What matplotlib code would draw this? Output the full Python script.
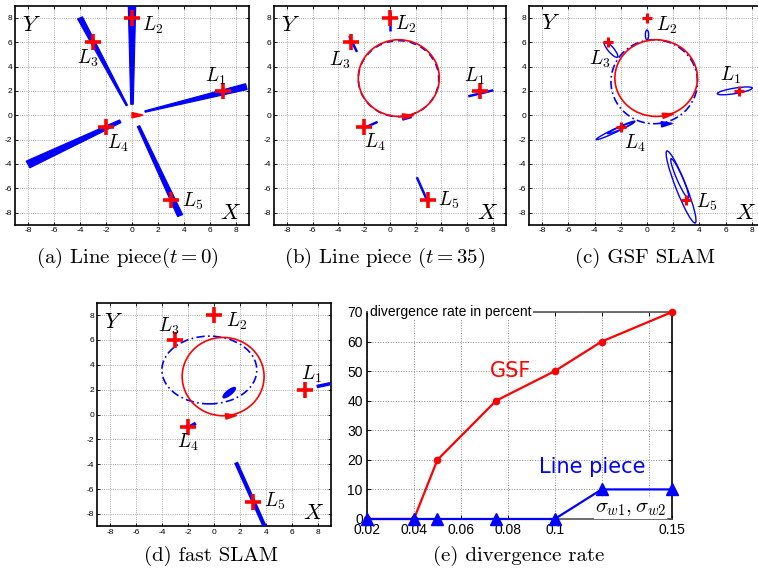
import numpy as np
import matplotlib
matplotlib.use("Agg")
import matplotlib.pyplot as plt
from matplotlib.patches import Ellipse, Polygon

plt.rcParams['font.family'] = ['Liberation Sans', 'DejaVu Sans']
plt.rcParams['mathtext.fontset'] = 'cm'
plt.rcParams['axes.unicode_minus'] = False

# ---------------- landmarks ----------------
lm_x = [7, 0, -3, -2, 3]
lm_y = [2, 8, 6, -1, -7]
lm_names = ['$L_1$', '$L_2$', '$L_3$', '$L_4$', '$L_5$']

# (a) line pieces at t = 0 : start/end points and widths
piece0_x0 = [1.0, 0.0, -0.4, -0.9, 0.5]
piece0_y0 = [0.3, 0.9, 0.8, -0.5, -0.9]
piece0_x1 = [8.8, 0.0, -4.0, -8.0, 3.7]
piece0_y1 = [2.35, 9.6, 8.0, -4.05, -8.25]
piece0_w0 = [0.12, 0.2, 0.12, 0.25, 0.2]
piece0_w1 = [0.5, 0.6, 0.42, 0.62, 0.42]

# (b) line pieces at t = 35
piece35_x0 = [6.1, 0.05, -3.15, -2.1, 2.1]
piece35_y0 = [1.55, 6.9, 6.5, -1.1, -5.1]
piece35_x1 = [8.05, 0.05, -2.55, -0.95, 2.9]
piece35_y1 = [2.05, 8.5, 5.2, -0.55, -7.0]

# robot trajectory (true) and estimates: centre x, centre y, width, height
true_path = (0.7, 3.05, 6.3, 6.3)
est_path_b = (0.68, 3.0, 6.25, 6.25)
est_path_c = (0.55, 2.75, 6.6, 6.9)
est_path_d = (-0.36, 3.58, 7.3, 5.45)

# (c) GSF landmark covariance ellipses
gsf_cx = [6.7, 0.0, -2.75, -2.4, -2.0, 2.6, 2.5]
gsf_cy = [2.0, 6.6, 5.4, -1.25, -1.05, -5.9, -5.2]
gsf_w = [2.7, 0.8, 1.6, 3.3, 2.2, 6.3, 3.5]
gsf_h = [0.45, 0.25, 0.45, 0.3, 0.2, 0.8, 0.45]
gsf_ang = [10, 90, -52, 27, 25, -70, -68]

# (d) fast SLAM landmark lines
fast_x0 = [7.9, -1.85, 1.69]
fast_y0 = [2.25, -0.97, -3.85]
fast_x1 = [9.6, -1.4, 4.15]
fast_y1 = [2.62, -0.7, -9.6]
fast_lw = [2.5, 2.5, 3.0]

# (e) divergence rate
sigma = [0.02, 0.04, 0.05, 0.075, 0.10, 0.12, 0.15]
gsf_rate = [0, 0, 20, 40, 50, 60, 70]
piece_rate = [0, 0, 0, 0, 0, 10, 10]
e_xticks = [0.02, 0.04, 0.06, 0.08, 0.10, 0.12, 0.14, 0.15]
e_xticklabels = ['0.02', '0.04', '0.06', '0.08', '0.1', '', '', '0.15']
e_yticks = [0, 10, 20, 30, 40, 50, 60, 70]

fig = plt.figure(figsize=(7.58, 5.75), dpi=100)


def slam_axes(rect):
    ax = fig.add_axes(rect)
    ax.set_xlim(-9, 9)
    ax.set_ylim(-9, 9)
    ticks = np.arange(-8, 9, 2)
    ax.set_xticks(ticks)
    ax.set_yticks(ticks)
    ax.tick_params(direction='in', length=2, width=0.6, labelsize=6, pad=2,
                   top=True, right=True)
    ax.grid(True, linestyle=':', color='#8a8a8a', lw=0.6)
    ax.set_axisbelow(True)
    for s in ax.spines.values():
        s.set_linewidth(1.2)
    return ax


def robot(ax, x, y, heading, color, length=0.85, half=0.22, zorder=6):
    h = np.deg2rad(heading)
    tip = (x + length * np.cos(h), y + length * np.sin(h))
    b1 = (x - half * np.sin(h), y + half * np.cos(h))
    b2 = (x + half * np.sin(h), y - half * np.cos(h))
    ax.add_patch(Polygon([b1, tip, b2], closed=True, facecolor=color,
                         edgecolor=color, lw=1, zorder=zorder))


def landmarks(ax, offsets, msize=11, mew=2.6):
    ax.plot(lm_x, lm_y, '+', color='red', ms=msize, mew=mew, zorder=7)
    for x, y, name, (dx, dy) in zip(lm_x, lm_y, lm_names, offsets):
        ax.text(x + dx, y + dy, name, fontsize=14, ha='center', va='center',
                zorder=8)


def xy_labels(ax, xpos=(7.6, -8.1), ypos=(-7.7, 7.4)):
    ax.text(*xpos, '$X$', fontsize=16, ha='center', va='center', zorder=8)
    ax.text(*ypos, '$Y$', fontsize=16, ha='center', va='center', zorder=8)


def wedge(ax, x0, y0, x1, y1, w0, w1, color='blue'):
    d = np.array([x1 - x0, y1 - y0], float)
    d /= np.hypot(*d)
    n = np.array([-d[1], d[0]])
    p0 = np.array([x0, y0])
    p1 = np.array([x1, y1])
    verts = [p0 + n * w0 / 2, p1 + n * w1 / 2, p1 - n * w1 / 2, p0 - n * w0 / 2]
    ax.add_patch(Polygon(verts, closed=True, facecolor=color, edgecolor=color,
                         lw=0.8, zorder=4))


def path(ax, spec, color, ls, lw=1.2):
    cx, cy, w, h = spec
    ax.add_patch(Ellipse((cx, cy), w, h, fill=False, edgecolor=color,
                         linestyle=ls, lw=lw, zorder=5))


# ---------------- (a) ----------------
ax_a = slam_axes([0.0198, 0.6092, 0.3087, 0.3809])
for i in range(5):
    wedge(ax_a, piece0_x0[i], piece0_y0[i], piece0_x1[i], piece0_y1[i],
          piece0_w0[i], piece0_w1[i])
robot(ax_a, 0.0, 0.0, 0, 'red')
landmarks(ax_a, [(-0.6, 1.2), (1.55, -0.6), (-0.4, -1.3), (0.9, -1.3), (1.7, -0.1)])
xy_labels(ax_a)

# ---------------- (b) ----------------
ax_b = slam_axes([0.3615, 0.6092, 0.3055, 0.3809])
path(ax_b, est_path_b, 'blue', (0, (4, 3)))
path(ax_b, true_path, 'red', '-')
for i in range(5):
    ax_b.plot([piece35_x0[i], piece35_x1[i]], [piece35_y0[i], piece35_y1[i]],
              color='blue', lw=1.8, solid_capstyle='butt', zorder=4)
robot(ax_b, 1.0, -0.25, 5, 'blue', length=0.7, half=0.15)
robot(ax_b, 1.0, -0.1, 5, 'red')
landmarks(ax_b, [(-0.4, 1.2), (1.2, -0.5), (-0.86, -1.5), (0.86, -1.2), (1.55, 0.0)])
xy_labels(ax_b)

# ---------------- (c) ----------------
ax_c = slam_axes([0.6979, 0.6092, 0.3113, 0.3809])
path(ax_c, est_path_c, 'blue', (0, (5, 2, 1, 2)))
path(ax_c, true_path, 'red', '-')
for cx, cy, w, h, a in zip(gsf_cx, gsf_cy, gsf_w, gsf_h, gsf_ang):
    ax_c.add_patch(Ellipse((cx, cy), w, h, angle=a, fill=False,
                           edgecolor='blue', lw=1.0, zorder=4))
robot(ax_c, 1.1, -0.75, 5, 'blue')
robot(ax_c, 1.2, -0.05, 10, 'red')
landmarks(ax_c, [(-0.65, 1.26), (1.5, -0.6), (-0.6, -1.4), (1.1, -1.35), (1.57, -0.15)],
          msize=7, mew=2.2)
xy_labels(ax_c, xpos=(7.5, -8.1), ypos=(-7.4, 7.5))

# ---------------- (d) ----------------
ax_d = slam_axes([0.128, 0.0845, 0.3087, 0.3892])
path(ax_d, est_path_d, 'blue', (0, (5, 2, 1, 2)))
path(ax_d, true_path, 'red', '-')
for x0, y0, x1, y1, lw in zip(fast_x0, fast_y0, fast_x1, fast_y1, fast_lw):
    ax_d.plot([x0, x1], [y0, y1], color='blue', lw=lw, solid_capstyle='butt',
              zorder=4)
ax_d.add_patch(Ellipse((1.17, 1.76), 1.2, 0.38, angle=40, facecolor='blue',
                       edgecolor='blue', zorder=4))
robot(ax_d, 0.9, -0.15, 5, 'red')
landmarks(ax_d, [(0.5, 1.2), (1.76, -0.5), (-0.5, 1.1), (-0.05, -1.2), (1.7, 0.0)])
xy_labels(ax_d, xpos=(7.64, -8.0))

# ---------------- (e) ----------------
ax_e = fig.add_axes([0.4842, 0.0974, 0.4024, 0.36])
ax_e.set_xlim(0.02, 0.15)
ax_e.set_ylim(0, 70)
ax_e.set_xticks(e_xticks)
ax_e.set_xticklabels(e_xticklabels)
ax_e.set_yticks(e_yticks)
ax_e.tick_params(direction='in', length=3, width=0.7, labelsize=10, pad=3,
                 top=True, right=True)
ax_e.grid(True, linestyle=':', color='#8a8a8a', lw=0.7)
ax_e.set_axisbelow(True)
ax_e.spines['left'].set_color('black')
ax_e.spines['right'].set_color('black')
ax_e.spines['top'].set_color('#555555')
ax_e.spines['bottom'].set_color('#555555')
for s in ax_e.spines.values():
    s.set_linewidth(1.2)

ax_e.plot(sigma, gsf_rate, '-o', color='red', lw=1.6, ms=4.5, zorder=5,
          clip_on=False)
ax_e.plot(sigma, piece_rate, '-^', color='blue', lw=1.6, ms=9, zorder=6,
          clip_on=False)
ax_e.text(0.081, 50, 'GSF', color='red', fontsize=15, ha='center', va='center',
          family='DejaVu Sans')
ax_e.text(0.116, 17.6, 'Line piece', color='blue', fontsize=15, ha='center',
          va='center', family='DejaVu Sans')
ax_e.text(0.0212, 70, 'divergence rate in percent', fontsize=10, ha='left',
          va='center', zorder=7,
          bbox=dict(facecolor='white', edgecolor='none', pad=1.0))
ax_e.text(0.1475, 0.3, r'$\sigma_{w1},\sigma_{w2}$', fontsize=15, ha='right',
          va='bottom', zorder=7,
          bbox=dict(facecolor='white', edgecolor='none', pad=0.5))

# ---------------- captions ----------------
cap = dict(fontsize=15, family='cmr10', ha='center', va='center')
fig.text(0.168, 0.551, r'(a) Line piece($t=0$)', **cap)
fig.text(0.508, 0.551, r'(b) Line piece ($t=35$)', **cap)
fig.text(0.851, 0.551, '(c) GSF SLAM', **cap)
fig.text(0.278, 0.033, '(d) fast SLAM', **cap)
fig.text(0.684, 0.033, '(e) divergence rate', **cap)

fig.savefig('out.png', dpi=100)
